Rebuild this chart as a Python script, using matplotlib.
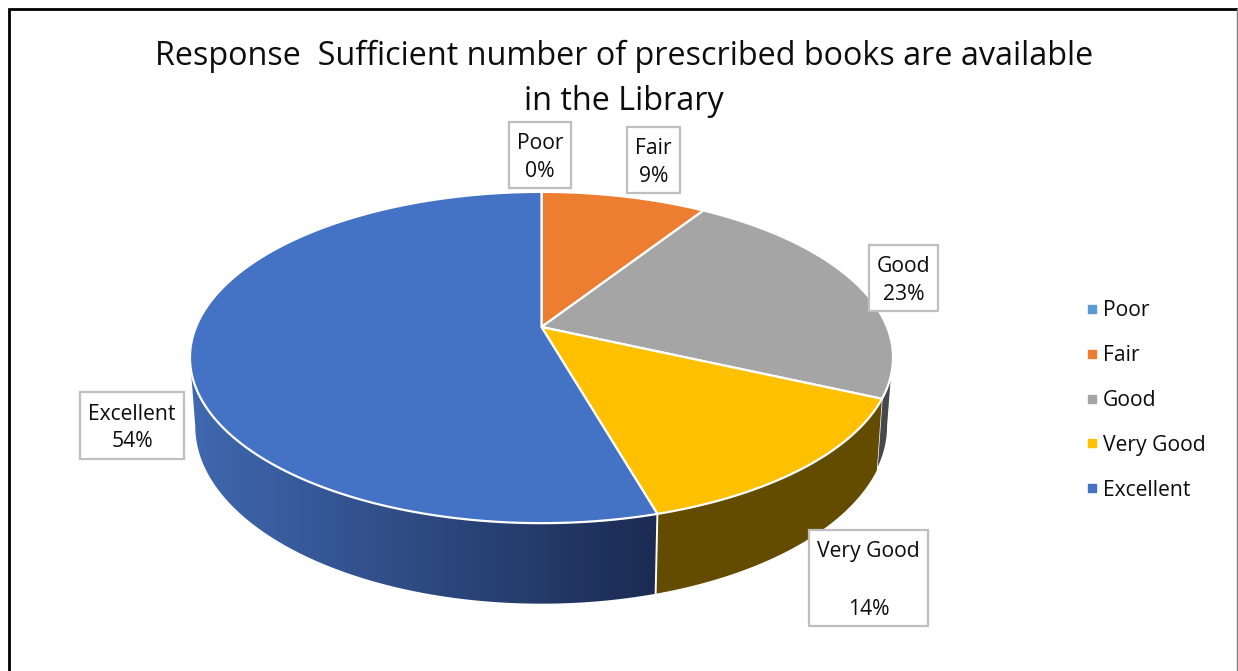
import matplotlib
matplotlib.use("Agg")
import matplotlib.pyplot as plt
from matplotlib.lines import Line2D
from matplotlib.patches import Rectangle
from matplotlib.colors import LinearSegmentedColormap
import numpy as np

plt.rcParams['font.family'] = ['Open Sans', 'DejaVu Sans']

# Data (percent)
categories = ["Poor", "Fair", "Good", "Very Good", "Excellent"]
values = [0.0, 9.1, 22.7, 13.75, 54.45]
shown = ["0%", "9%", "23%", "14%", "54%"]
colors = ["#5B9BD5", "#ED7D31", "#A5A5A5", "#FFC000", "#4472C4"]
title = "Response  Sufficient number of prescribed books are available\nin the Library"

# Label boxes: left, top, right, bottom in pixels
box_poor = (509, 122, 571, 188)
box_fair = (627, 127, 680, 193)
box_good = (869, 245, 938, 311)
box_vg = (809, 530, 928, 626)
box_exc = (80, 392, 184, 459)
boxes = [box_poor, box_fair, box_good, box_vg, box_exc]

# Pie geometry in pixels
cx, cy = 541.5, 327
k = 0.1843      # perspective of the tilted disc
rx, ry = 345.5, 160
wall_sx, wall_sy, wall_dy = 0.985, 1.072, 66.4
side_limit = np.degrees(np.arccos(-k))   # where the rim turns away


def top_xy(a):
    # a = degrees clockwise from 12 o'clock
    a = np.radians(a)
    x, y = np.sin(a), np.cos(a)
    d = 1 + k * y
    return rx * x / d, -ry * y / d


def rim(a):
    x, y = top_xy(a)
    return cx + x, cy + y


def floor(a):
    x, y = top_xy(a)
    return cx + wall_sx * x, cy + wall_dy + wall_sy * y


def wall(ax, a0, a1, color, ec="none", lw=0, z=2):
    a = np.linspace(a0, a1, 120)
    x1, y1 = rim(a)
    x2, y2 = floor(a)
    return ax.fill(np.r_[x1, x2[::-1]], np.r_[y1, y2[::-1]], fc=color, ec=ec, lw=lw, zorder=z)[0]


fig = plt.figure(figsize=(12.38, 6.71), dpi=100)
ax = fig.add_axes([0, 0, 1, 1])
ax.axis("off")

# outer frame of the screenshot
ax.plot([9, 9, 1236.5], [671, 8.5, 8.5], color="black", lw=2, zorder=1, solid_joinstyle="miter")
ax.plot([1237, 1237], [9, 671], color="#808080", lw=1, zorder=1)

edges = np.r_[0, np.cumsum(values)] * 3.6

# walls: only the part of the rim that faces us
# good slice, thin dark sliver
wall(ax, side_limit, edges[3], "#46484C", ec="white", lw=1.0, z=2)
# very good slice
wall(ax, edges[3], edges[4], "#634B00", z=3)
# excellent slice, shaded left to right
start, stop = 360 - side_limit, edges[4]
shape = wall(ax, start, stop, "none", z=3)
shade = LinearSegmentedColormap.from_list("shade", ["#4068B0", "#1B2B52"])
left, right = rim(start)[0], rim(stop)[0]
img = ax.imshow(np.linspace(0, 1, 256).reshape(1, -1), cmap=shade, aspect="auto",
                extent=(left, right, 620, 340), zorder=3)
img.set_clip_path(shape)

# white seam between the two front walls
sx0, sy0 = rim(edges[4])
sx1, sy1 = floor(edges[4])
ax.plot([sx0, sx1], [sy0, sy1], color="white", lw=1.4, zorder=4)

# top of the pie
for i in range(len(values)):
    if values[i] == 0:
        continue
    a = np.linspace(edges[i], edges[i + 1], 200)
    x, y = rim(a)
    ax.fill(np.r_[cx, x], np.r_[cy, y], fc=colors[i], ec="white", lw=1.6, zorder=5, joinstyle="round")

# data labels
for i in range(len(categories)):
    l, t, r, b = boxes[i]
    ax.add_patch(Rectangle((l, t), r - l, b - t, fc="white", ec="#BFBFBF", lw=1.6, zorder=6))
    if categories[i] == "Very Good":
        txt = categories[i] + "\n\n" + shown[i]
        spacing = 1.5
    else:
        txt = categories[i] + "\n" + shown[i]
        spacing = 1.41
    ax.text((l + r) / 2, (t + b) / 2 + 2.5, txt, ha="center", va="center", fontsize=15.2,
            color="#0D0D0D", linespacing=spacing, zorder=7)

ax.text(624, 79, title, ha="center", va="center", fontsize=23.3, color="#0D0D0D", linespacing=1.485)

handles = [Line2D([], [], ls="none", marker="s", ms=5.8, color=c) for c in colors]
ax.legend(handles, categories, loc="center left", bbox_to_anchor=(1062 / 1238, 1 - 400.5 / 671),
          frameon=False, fontsize=15.2, labelspacing=1.13, handlelength=1.0, handletextpad=0.05,
          labelcolor="#0D0D0D")

ax.set_xlim(0, 1238)
ax.set_ylim(671, 0)

fig.savefig("out.png", dpi=100)
